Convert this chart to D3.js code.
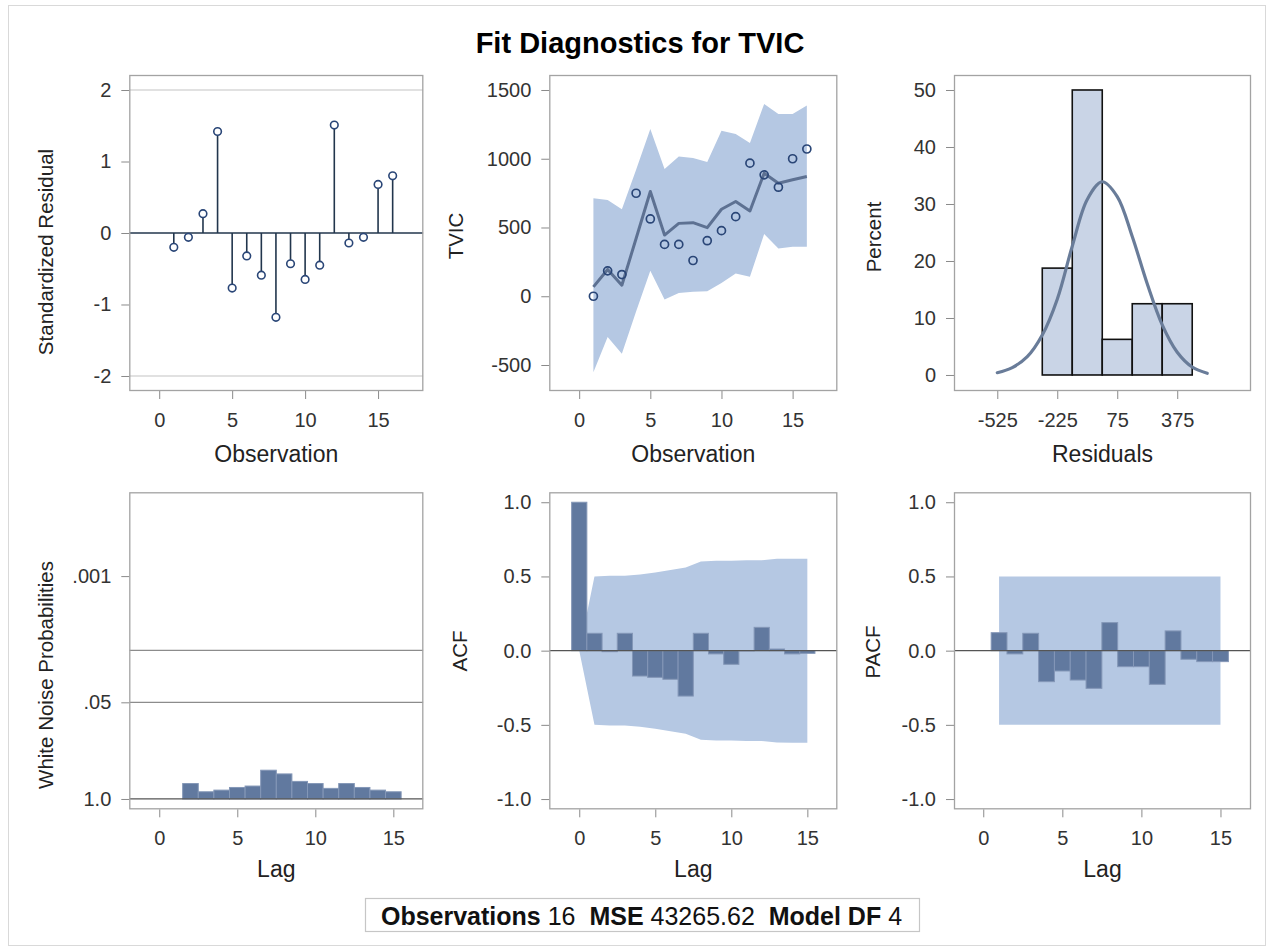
<!DOCTYPE html>
<html>
<head>
<meta charset="utf-8">
<script src="https://cdn.jsdelivr.net/npm/d3@7"></script>
<style>
  html, body { margin: 0; padding: 0; background: #ffffff; }
  svg { display: block; }
  text { font-family: "Liberation Sans", Arial, sans-serif; }
</style>
</head>
<body>
<svg id="chart" width="1273" height="950"></svg>
<script>
// ---------------- DATA ----------------
const observations = [1, 2, 3, 4, 5, 6, 7, 8, 9, 10, 11, 12, 13, 14, 15, 16];
const standardizedResidual = [-0.20, -0.06, 0.27, 1.42, -0.77, -0.32, -0.59, -1.18, -0.43, -0.65, -0.45, 1.51, -0.14, -0.06, 0.68, 0.80];
const tvicActual = [0, 185, 158, 749, 562, 377, 377, 260, 404, 477, 579, 968, 883, 793, 1000, 1071];
const tvicPredicted = [68, 195, 80, 420, 762, 445, 530, 535, 499, 633, 689, 620, 895, 822, 847, 871];
const tvicUpper = [713, 700, 633, 920, 1217, 925, 1017, 1005, 976, 1204, 1180, 1114, 1399, 1326, 1326, 1387];
const tvicLower = [-552, -297, -418, -110, 185, -24, 24, 32, 36, 97, 165, 141, 453, 348, 360, 360];

const residBinMid = [-225, -75, 75, 225, 375];
const residBinPercent = [18.75, 50, 6.25, 12.5, 12.5];
const residBinWidth = 150;
const residTicks = [-525, -225, 75, 375];
const normalCurveX = [-525, -450, -375, -300, -225, -150, -75, 0, 75, 150, 225, 300, 375, 450, 525];
const normalCurveY = [0.4, 1.3, 3.2, 7.0, 13.3, 22.6, 30.8, 33.9, 31.3, 24.3, 16.0, 8.8, 4.0, 1.4, 0.3];

const wnLags = [2, 3, 4, 5, 6, 7, 8, 9, 10, 11, 12, 13, 14, 15];
const wnProb = [0.62, 0.80, 0.76, 0.70, 0.67, 0.41, 0.46, 0.58, 0.62, 0.72, 0.62, 0.70, 0.76, 0.80];
const wnTicks = [0.001, 0.05, 1.0];
const wnTickLabels = [".001", ".05", "1.0"];
const wnRefLines = [0.05, 0.01];

const acfLags = [0, 1, 2, 3, 4, 5, 6, 7, 8, 9, 10, 11, 12, 13, 14, 15];
const acfValues = [1.0, 0.117, -0.007, 0.117, -0.171, -0.18, -0.193, -0.306, 0.117, -0.022, -0.092, -0.002, 0.157, 0.011, -0.022, -0.018];
const acfBand = [0, 0.50, 0.505, 0.505, 0.513, 0.527, 0.543, 0.56, 0.60, 0.605, 0.606, 0.609, 0.609, 0.619, 0.62, 0.62];

const pacfLags = [1, 2, 3, 4, 5, 6, 7, 8, 9, 10, 11, 12, 13, 14, 15];
const pacfValues = [0.121, -0.022, 0.117, -0.209, -0.137, -0.198, -0.254, 0.189, -0.108, -0.108, -0.227, 0.133, -0.058, -0.074, -0.074];
const pacfBand = [0.5, 0.5, 0.5, 0.5, 0.5, 0.5, 0.5, 0.5, 0.5, 0.5, 0.5, 0.5, 0.5, 0.5, 0.5];

const obsTicks = [0, 5, 10, 15];
const lagTicks = [0, 5, 10, 15];
const stdResTicks = [-2, -1, 0, 1, 2];
const tvicTicks = [-500, 0, 500, 1000, 1500];
const pctTicks = [0, 10, 20, 30, 40, 50];
const corrTicks = [-1.0, -0.5, 0.0, 0.5, 1.0];

const chartTitle = "Fit Diagnostics for TVIC";
const footerItems = [["Observations", "16"], ["MSE", "43265.62"], ["Model DF", "4"]];

// ---------------- STYLE ----------------
const C = {
  frame: "#a3a3a3",
  tick: "#8a8a8a",
  tickText: "#333333",
  label: "#222222",
  band: "#b5c8e3",
  bar: "#61799f",
  barEdge: "#8497b7",
  histFill: "#c9d4e6",
  curve: "#697c99",
  marker: "#2a4677",
  stem: "#22364d",
  predLine: "#5d7192",
  zero: "#555555",
  ref: "#c4c4c4",
  refDark: "#8c8c8c"
};
const FONT = '"Liberation Sans", Arial, sans-serif';
const hyphenFmt = d => String(d);
const oneDec = d => d.toFixed(1);

const svg = d3.select("#chart");

// outer border
svg.append("rect").attr("x", 8.5).attr("y", 5.5).attr("width", 1257).attr("height", 940)
  .attr("fill", "#fff").attr("stroke", "#d9d9d9").attr("stroke-width", 1);

// title
svg.append("text").attr("x", 640).attr("y", 53).attr("text-anchor", "middle")
  .attr("font-size", 29).attr("font-weight", "bold").attr("fill", "#000").text(chartTitle);

let clipId = 0;
function makePanel(o) {
  const g = svg.append("g");
  const id = "clip" + (clipId++);
  svg.append("clipPath").attr("id", id).append("rect")
    .attr("x", o.x0).attr("y", o.y0).attr("width", o.x1 - o.x0).attr("height", o.y1 - o.y0);
  const plot = g.append("g").attr("clip-path", `url(#${id})`);
  const xa = g.append("g").attr("transform", `translate(0,${o.y1})`)
    .call(d3.axisBottom(o.x).tickValues(o.xTicks).tickSize(8).tickPadding(14)
      .tickFormat(o.xFormat || hyphenFmt));
  const ya = g.append("g").attr("transform", `translate(${o.x0},0)`)
    .call(d3.axisLeft(o.y).tickValues(o.yTicks).tickSize(8).tickPadding(10)
      .tickFormat(o.yFormat || hyphenFmt));
  [xa, ya].forEach(a => {
    a.select(".domain").remove();
    a.selectAll(".tick line").attr("stroke", C.tick).attr("stroke-width", 1);
    a.selectAll(".tick text").attr("font-size", 20).attr("fill", C.tickText).attr("font-family", FONT);
  });
  g.append("text").attr("x", (o.x0 + o.x1) / 2).attr("y", o.xLabelY).attr("text-anchor", "middle")
    .attr("font-size", 23).attr("fill", C.label).text(o.xLabel);
  g.append("text").attr("transform", `translate(${o.yLabelX},${o.yLabelY}) rotate(-90)`)
    .attr("text-anchor", "middle").attr("font-size", 20.5).attr("fill", C.label).text(o.yLabel);
  return { g, plot, finish: () => {
    g.append("rect").attr("x", o.x0 + 0.5).attr("y", o.y0 + 0.5)
      .attr("width", o.x1 - o.x0 - 1).attr("height", o.y1 - o.y0 - 1)
      .attr("fill", "none").attr("stroke", C.frame).attr("stroke-width", 1.3);
  }};
}

// ---------- Panel 1: Standardized residual ----------
{
  const x = d3.scaleLinear().domain([-2.05, 18.1]).range([129.3, 423.3]);
  const y = d3.scaleLinear().domain([-2.21, 2.21]).range([391, 75]);
  const p = makePanel({ x0: 129.3, y0: 75, x1: 423.3, y1: 391, x, y, xTicks: obsTicks, yTicks: stdResTicks,
    xLabel: "Observation", xLabelY: 461.5, yLabel: "Standardized Residual", yLabelX: 53, yLabelY: 252 });
  [2, -2].forEach(v => p.plot.append("line").attr("x1", 129.3).attr("x2", 423.3)
    .attr("y1", y(v)).attr("y2", y(v)).attr("stroke", C.ref).attr("stroke-width", 1.2));
  p.plot.append("line").attr("x1", 129.3).attr("x2", 423.3).attr("y1", y(0)).attr("y2", y(0))
    .attr("stroke", C.stem).attr("stroke-width", 1.6);
  p.plot.selectAll(".stem").data(observations).join("line")
    .attr("x1", d => x(d)).attr("x2", d => x(d))
    .attr("y1", y(0)).attr("y2", (d, i) => y(standardizedResidual[i]))
    .attr("stroke", C.stem).attr("stroke-width", 1.6);
  p.plot.selectAll(".mk").data(observations).join("circle")
    .attr("cx", d => x(d)).attr("cy", (d, i) => y(standardizedResidual[i])).attr("r", 3.8)
    .attr("fill", "#fff").attr("stroke", C.marker).attr("stroke-width", 1.6);
  p.finish();
}

// ---------- Panel 2: TVIC fit ----------
{
  const x = d3.scaleLinear().domain([-2.1, 18.14]).range([549.3, 837.3]);
  const y = d3.scaleLinear().domain([-689, 1609]).range([391, 75]);
  const p = makePanel({ x0: 549.3, y0: 75, x1: 837.3, y1: 391, x, y, xTicks: obsTicks, yTicks: tvicTicks,
    xLabel: "Observation", xLabelY: 461.5, yLabel: "TVIC", yLabelX: 463, yLabelY: 236 });
  const area = d3.area().x((d, i) => x(observations[i])).y0((d, i) => y(tvicLower[i])).y1(d => y(d));
  p.plot.append("path").attr("d", area(tvicUpper)).attr("fill", C.band);
  const line = d3.line().x((d, i) => x(observations[i])).y(d => y(d));
  p.plot.append("path").attr("d", line(tvicPredicted)).attr("fill", "none")
    .attr("stroke", C.predLine).attr("stroke-width", 3).attr("stroke-linejoin", "round");
  p.plot.selectAll(".mk").data(observations).join("circle")
    .attr("cx", d => x(d)).attr("cy", (d, i) => y(tvicActual[i])).attr("r", 4)
    .attr("fill", "none").attr("stroke", C.marker).attr("stroke-width", 1.7);
  p.finish();
}

// ---------- Panel 3: Residual histogram ----------
{
  const x = d3.scaleLinear().domain([-741.5, 744]).range([954, 1251]);
  const y = d3.scaleLinear().domain([-2.81, 52.63]).range([391, 75]);
  const p = makePanel({ x0: 954, y0: 75, x1: 1251, y1: 391, x, y, xTicks: residTicks, yTicks: pctTicks,
    xLabel: "Residuals", xLabelY: 461.5, yLabel: "Percent", yLabelX: 881, yLabelY: 237 });
  p.plot.selectAll(".bin").data(residBinMid).join("rect")
    .attr("x", d => x(d - residBinWidth / 2)).attr("width", d => x(d + residBinWidth / 2) - x(d - residBinWidth / 2))
    .attr("y", (d, i) => y(residBinPercent[i])).attr("height", (d, i) => y(0) - y(residBinPercent[i]))
    .attr("fill", C.histFill).attr("stroke", "#111").attr("stroke-width", 1.6);
  const curve = d3.line().curve(d3.curveCatmullRom.alpha(0.5))
    .x((d, i) => x(normalCurveX[i])).y(d => y(d));
  p.plot.append("path").attr("d", curve(normalCurveY)).attr("fill", "none")
    .attr("stroke", C.curve).attr("stroke-width", 3.2).attr("stroke-linecap", "round");
  p.finish();
}

// ---------- Panel 4: White noise probabilities ----------
{
  const x = d3.scaleLinear().domain([-1.92, 16.92]).range([129.3, 423.3]);
  const y = d3.scaleLog().domain([Math.pow(10, 0.139), Math.pow(10, -4.128)]).range([809.3, 492.3]);
  const p = makePanel({ x0: 129.3, y0: 492.3, x1: 423.3, y1: 809.3, x, y, xTicks: lagTicks, yTicks: wnTicks,
    yFormat: d => wnTickLabels[wnTicks.indexOf(d)],
    xLabel: "Lag", xLabelY: 877, yLabel: "White Noise Probabilities", yLabelX: 53, yLabelY: 675 });
  wnRefLines.forEach(v => p.plot.append("line").attr("x1", 129.3).attr("x2", 423.3)
    .attr("y1", y(v)).attr("y2", y(v)).attr("stroke", C.refDark).attr("stroke-width", 1.3));
  p.plot.selectAll(".bar").data(wnLags).join("rect")
    .attr("x", d => x(d - 0.5)).attr("width", d => x(d + 0.5) - x(d - 0.5))
    .attr("y", (d, i) => y(wnProb[i])).attr("height", (d, i) => y(1) - y(wnProb[i]))
    .attr("fill", C.bar).attr("stroke", C.barEdge).attr("stroke-width", 1);
  p.plot.append("line").attr("x1", 129.3).attr("x2", 423.3).attr("y1", y(1)).attr("y2", y(1))
    .attr("stroke", C.zero).attr("stroke-width", 1.3);
  p.finish();
}

// ---------- Panel 5: ACF ----------
{
  const x = d3.scaleLinear().domain([-1.97, 16.97]).range([549.3, 837.3]);
  const y = d3.scaleLinear().domain([-1.069, 1.067]).range([809.3, 492.3]);
  const p = makePanel({ x0: 549.3, y0: 492.3, x1: 837.3, y1: 809.3, x, y, xTicks: lagTicks, yTicks: corrTicks,
    yFormat: oneDec,
    xLabel: "Lag", xLabelY: 877, yLabel: "ACF", yLabelX: 466.5, yLabelY: 651 });
  const area = d3.area().x((d, i) => x(acfLags[i])).y0(d => y(-d)).y1(d => y(d));
  p.plot.append("path").attr("d", area(acfBand)).attr("fill", C.band);
  p.plot.selectAll(".bar").data(acfLags).join("rect")
    .attr("x", d => x(d - 0.5)).attr("width", d => x(d + 0.5) - x(d - 0.5))
    .attr("y", (d, i) => y(Math.max(0, acfValues[i])))
    .attr("height", (d, i) => Math.abs(y(acfValues[i]) - y(0)))
    .attr("fill", C.bar).attr("stroke", C.barEdge).attr("stroke-width", 1);
  p.plot.append("line").attr("x1", 549.3).attr("x2", 837.3).attr("y1", y(0)).attr("y2", y(0))
    .attr("stroke", C.zero).attr("stroke-width", 1.3);
  p.finish();
}

// ---------- Panel 6: PACF ----------
{
  const x = d3.scaleLinear().domain([-1.85, 16.93]).range([954, 1251]);
  const y = d3.scaleLinear().domain([-1.069, 1.067]).range([809.3, 492.3]);
  const p = makePanel({ x0: 954, y0: 492.3, x1: 1251, y1: 809.3, x, y, xTicks: lagTicks, yTicks: corrTicks,
    yFormat: oneDec,
    xLabel: "Lag", xLabelY: 877, yLabel: "PACF", yLabelX: 880, yLabelY: 652 });
  const area = d3.area().x((d, i) => x(pacfLags[i])).y0(d => y(-d)).y1(d => y(d));
  p.plot.append("path").attr("d", area(pacfBand)).attr("fill", C.band);
  p.plot.selectAll(".bar").data(pacfLags).join("rect")
    .attr("x", d => x(d - 0.5)).attr("width", d => x(d + 0.5) - x(d - 0.5))
    .attr("y", (d, i) => y(Math.max(0, pacfValues[i])))
    .attr("height", (d, i) => Math.abs(y(pacfValues[i]) - y(0)))
    .attr("fill", C.bar).attr("stroke", C.barEdge).attr("stroke-width", 1);
  p.plot.append("line").attr("x1", 954).attr("x2", 1251).attr("y1", y(0)).attr("y2", y(0))
    .attr("stroke", C.zero).attr("stroke-width", 1.3);
  p.finish();
}

// ---------- Footer ----------
{
  svg.append("rect").attr("x", 365.5).attr("y", 898.5).attr("width", 554).attr("height", 33)
    .attr("fill", "#fff").attr("stroke", "#c6c6c6").attr("stroke-width", 1.2);
  const t = svg.append("text").attr("x", 641.5).attr("y", 925).attr("text-anchor", "middle")
    .attr("font-size", 25).attr("fill", "#111").style("white-space", "pre");
  footerItems.forEach(([k, v], i) => {
    t.append("tspan").attr("font-weight", "bold").text((i > 0 ? "  " : "") + k);
    t.append("tspan").text(" " + v);
  });
}
</script>
</body>
</html>
